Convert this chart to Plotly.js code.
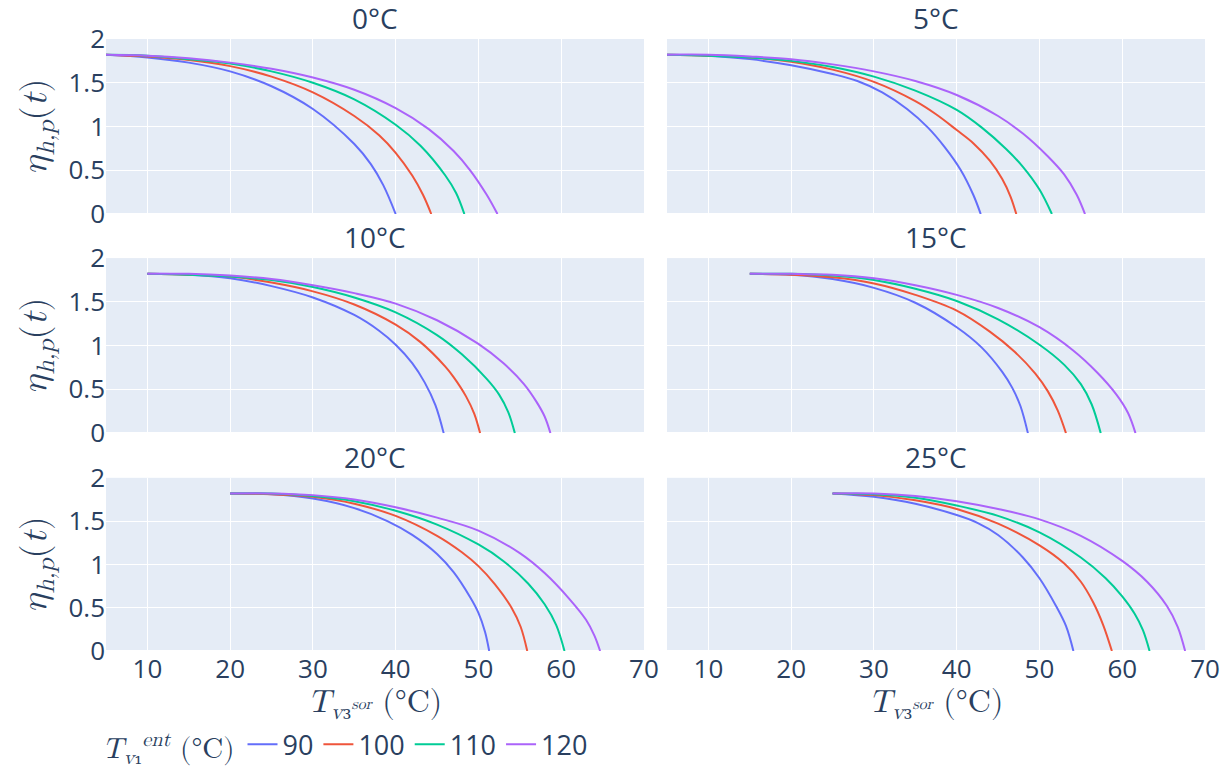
<!DOCTYPE html>
<html>
<head>
<meta charset="utf-8">
<script src="https://cdn.plot.ly/plotly-3.0.1.min.js"></script>
<style>html,body{margin:0;padding:0;background:#fff;}#chart{width:1231px;height:771px;}</style>
</head>
<body>
<div id="chart"></div>
<script>
// Panel titles (ambient temperature) and series names (inlet temperature)
const panelTitles = ["0°C", "5°C", "10°C", "15°C", "20°C", "25°C"];
const seriesNames = ["90", "100", "110", "120"];
const seriesColors = ["#636efa", "#EF553B", "#00cc96", "#ab63fa"];

// Each panel: x values (°C) and y values (eta) for series 90, 100, 110, 120
const x_0C = [
  [5, 10, 15, 20, 25, 30, 35, 37, 38.5, 40],
  [5, 10, 15, 20, 25, 30, 35, 38, 40, 42, 43.3, 44.3],
  [5, 10, 15, 20, 25, 30, 35, 40, 43, 46, 47.3, 48.3],
  [5, 10, 15, 20, 25, 30, 35, 40, 44, 47, 49, 51, 52.3]
];
const y_0C = [
  [1.82, 1.79, 1.73, 1.63, 1.46, 1.20, 0.80, 0.57, 0.33, 0],
  [1.82, 1.80, 1.76, 1.69, 1.57, 1.39, 1.12, 0.90, 0.70, 0.44, 0.22, 0],
  [1.82, 1.81, 1.77, 1.72, 1.63, 1.50, 1.31, 1.02, 0.78, 0.44, 0.24, 0],
  [1.82, 1.81, 1.78, 1.73, 1.66, 1.56, 1.42, 1.21, 0.97, 0.72, 0.50, 0.22, 0]
];

const x_5C = [
  [5, 10, 15, 20, 25, 28, 31, 34, 36.5, 38.5, 40.5, 42, 42.9],
  [5, 10, 15, 20, 25, 30, 35, 37.5, 40, 42, 44, 45.5, 46.5, 47.2],
  [5, 10, 15, 20, 25, 30, 35, 40, 43, 46, 48, 50, 51.5],
  [5, 10, 15, 20, 25, 30, 35, 40, 45, 48, 51, 53, 54.5, 55.5]
];
const y_5C = [
  [1.82, 1.81, 1.77, 1.70, 1.60, 1.52, 1.39, 1.20, 0.99, 0.77, 0.50, 0.22, 0],
  [1.82, 1.81, 1.79, 1.74, 1.65, 1.51, 1.29, 1.14, 0.96, 0.81, 0.61, 0.40, 0.20, 0],
  [1.82, 1.81, 1.79, 1.75, 1.68, 1.57, 1.41, 1.19, 0.99, 0.74, 0.54, 0.28, 0],
  [1.82, 1.82, 1.80, 1.77, 1.71, 1.63, 1.52, 1.36, 1.12, 0.92, 0.66, 0.45, 0.22, 0]
];

const x_10C = [
  [10, 15, 20, 25, 30, 35, 38, 40, 42, 43.5, 44.8, 45.8],
  [10, 15, 20, 25, 30, 35, 40, 43, 46, 47, 48.5, 49.5, 50.2],
  [10, 15, 20, 25, 30, 35, 40, 45, 48, 51, 52.5, 53.6, 54.4],
  [10, 15, 20, 25, 30, 35, 40, 45, 50, 53, 55.5, 57, 58, 58.7]
];
const y_10C = [
  [1.82, 1.81, 1.77, 1.68, 1.55, 1.35, 1.17, 1.01, 0.80, 0.58, 0.32, 0],
  [1.82, 1.81, 1.79, 1.72, 1.62, 1.47, 1.24, 1.04, 0.76, 0.64, 0.42, 0.22, 0],
  [1.82, 1.81, 1.79, 1.75, 1.67, 1.55, 1.38, 1.12, 0.90, 0.62, 0.44, 0.24, 0],
  [1.82, 1.82, 1.80, 1.76, 1.69, 1.60, 1.48, 1.29, 1.02, 0.80, 0.56, 0.36, 0.19, 0]
];

const x_15C = [
  [15, 20, 25, 30, 35, 40, 43, 45.5, 46.7, 47.7, 48.6],
  [15, 20, 25, 30, 35, 40, 44, 47, 49.5, 51, 52.2, 53.2],
  [15, 20, 25, 30, 35, 40, 45, 50, 53, 55, 56.3, 57.4],
  [15, 20, 25, 30, 35, 40, 45, 50, 54, 57, 59.3, 60.7, 61.6]
];
const y_15C = [
  [1.82, 1.81, 1.76, 1.66, 1.49, 1.21, 0.98, 0.70, 0.52, 0.31, 0],
  [1.82, 1.81, 1.78, 1.71, 1.58, 1.40, 1.16, 0.93, 0.68, 0.48, 0.26, 0],
  [1.82, 1.82, 1.80, 1.75, 1.65, 1.51, 1.30, 1.01, 0.78, 0.56, 0.33, 0],
  [1.82, 1.82, 1.81, 1.77, 1.69, 1.58, 1.43, 1.21, 0.95, 0.69, 0.44, 0.23, 0]
];

const x_20C = [
  [20, 25, 30, 35, 39, 42, 45, 47, 49, 50, 50.8, 51.3],
  [20, 25, 30, 35, 40, 45, 48, 50, 52, 54, 55.1, 55.9],
  [20, 25, 30, 35, 40, 45, 50, 53, 56, 58, 59.4, 60.4],
  [20, 25, 30, 35, 40, 45, 50, 55, 58, 61, 63, 64, 64.7]
];
const y_20C = [
  [1.82, 1.81, 1.76, 1.65, 1.50, 1.34, 1.12, 0.91, 0.62, 0.44, 0.22, 0],
  [1.82, 1.81, 1.78, 1.70, 1.56, 1.33, 1.14, 0.98, 0.77, 0.50, 0.28, 0],
  [1.82, 1.82, 1.79, 1.73, 1.62, 1.46, 1.23, 1.04, 0.78, 0.54, 0.30, 0],
  [1.82, 1.82, 1.80, 1.75, 1.66, 1.54, 1.39, 1.13, 0.90, 0.60, 0.36, 0.18, 0]
];

const x_25C = [
  [25, 30, 35, 40, 42.5, 45, 48, 50, 52, 53.2, 54.1],
  [25, 30, 35, 40, 45, 50, 53, 55, 56.5, 57.7, 58.75],
  [25, 30, 35, 40, 45, 50, 55, 58, 60, 61.5, 62.5, 63.3],
  [25, 30, 35, 40, 45, 50, 55, 60, 63, 65.4, 66.7, 67.6]
];
const y_25C = [
  [1.82, 1.78, 1.70, 1.57, 1.48, 1.34, 1.08, 0.84, 0.52, 0.29, 0],
  [1.82, 1.80, 1.74, 1.64, 1.47, 1.22, 1.01, 0.80, 0.56, 0.30, 0],
  [1.82, 1.81, 1.77, 1.68, 1.56, 1.37, 1.08, 0.84, 0.63, 0.43, 0.24, 0],
  [1.82, 1.82, 1.79, 1.73, 1.64, 1.52, 1.33, 1.04, 0.80, 0.52, 0.28, 0]
];

const panelX = [x_0C, x_5C, x_10C, x_15C, x_20C, x_25C];
const panelY = [y_0C, y_5C, y_10C, y_15C, y_20C, y_25C];

const xRange = [5, 70];
const yRange = [0, 2];

const traces = [];
for (let p = 0; p < 6; p++) {
  const axn = p === 0 ? "" : String(p + 1);
  for (let s = 0; s < 4; s++) {
    traces.push({
      type: "scatter",
      mode: "lines",
      x: panelX[p][s],
      y: panelY[p][s],
      name: seriesNames[s],
      legendgroup: seriesNames[s],
      showlegend: p === 0,
      line: {color: seriesColors[s], width: 2, shape: "spline", smoothing: 1},
      xaxis: "x" + axn,
      yaxis: "y" + axn
    });
  }
}

const fontMain = {family: '"Open Sans", verdana, arial, sans-serif', size: 26, color: "#2a3f5f"};
const serif = '"Latin Modern Math", "DejaVu Serif", "Liberation Serif", serif';

const colDomains = [[0, 0.4895], [0.5105, 1]];
const rowDomains = [[0.714, 1], [0.356, 0.642], [0, 0.283]];

const layout = {
  width: 1231, height: 771,
  paper_bgcolor: "#ffffff",
  plot_bgcolor: "#E5ECF6",
  font: fontMain,
  margin: {l: 106, r: 26, t: 39, b: 120, autoexpand: false},
  showlegend: true,
  legend: {
    orientation: "h",
    x: -0.005, xanchor: "left",
    y: -0.113, yanchor: "top",
    font: {size: 27, color: "#2a3f5f"},
    title: {text: "<i>T</i><sub><i>v</i>₁</sub><sup><i>ent</i></sup> (°C)", font: {family: serif, size: 29, color: "#2a3f5f"}},
    itemwidth: 30,
    tracegroupgap: 0
  },
  annotations: []
};

for (let p = 0; p < 6; p++) {
  const r = Math.floor(p / 2), c = p % 2;
  const axn = p === 0 ? "" : String(p + 1);
  const xa = {
    domain: colDomains[c],
    range: xRange,
    dtick: 10, tick0: 0,
    gridcolor: "white", gridwidth: 1,
    zeroline: false,
    showticklabels: r === 2,
    ticks: "",
    anchor: "y" + axn,
    automargin: false,
    tickfont: {size: 26}
  };
  if (r === 2) {
    xa.title = {text: "<i>T</i><sub><i>v</i>₃<sup><i>sor</i></sup></sub> (°C)", font: {family: serif, size: 32, color: "#2a3f5f"}, standoff: 0};
  }
  const ya = {
    domain: rowDomains[r],
    range: yRange,
    dtick: 0.5,
    gridcolor: "white", gridwidth: 1,
    zeroline: true, zerolinecolor: "white", zerolinewidth: 2,
    showticklabels: c === 0,
    ticks: "",
    anchor: "x" + axn,
    automargin: false,
    tickfont: {size: 26}
  };
  if (c === 0) {
    ya.title = {text: "<i>η</i><sub><i>h,p</i></sub>(<i>t</i>)", font: {family: serif, size: 36, color: "#2a3f5f"}, standoff: 10};
  }
  layout["xaxis" + axn] = xa;
  layout["yaxis" + axn] = ya;
  layout.annotations.push({
    text: panelTitles[p],
    xref: "paper", yref: "paper",
    x: (colDomains[c][0] + colDomains[c][1]) / 2,
    y: rowDomains[r][1],
    xanchor: "center", yanchor: "bottom",
    yshift: 0,
    showarrow: false,
    font: {size: 28, color: "#2a3f5f"}
  });
}

Plotly.newPlot("chart", traces, layout, {displayModeBar: false, staticPlot: true});
</script>
</body>
</html>
